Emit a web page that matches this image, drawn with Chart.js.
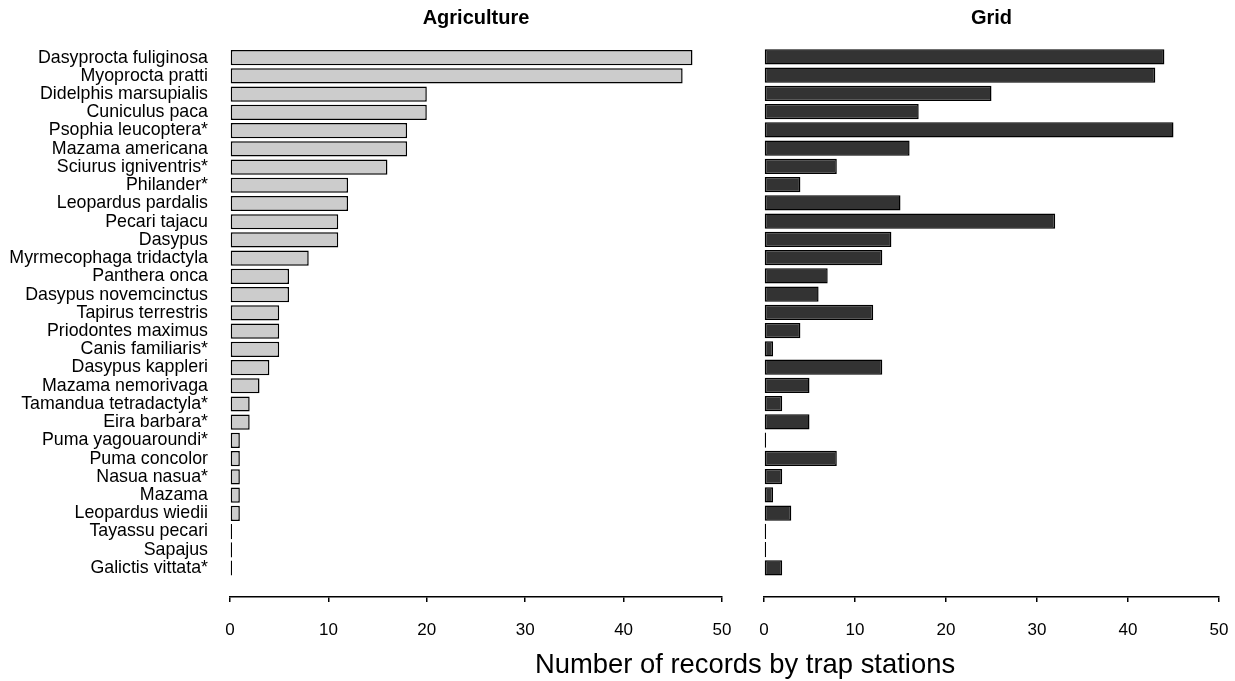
<!DOCTYPE html>
<html>
<head>
<meta charset="utf-8">
<script src="https://cdn.jsdelivr.net/npm/chart.js@4/dist/chart.umd.min.js"></script>
<style>
  html, body { margin: 0; padding: 0; background: #fff; }
  #wrap { position: relative; width: 1235px; height: 681px; overflow: hidden; }
  #c1 { position: absolute; left: 0; top: 0; }
  #c2 { position: absolute; left: 745px; top: 0; }
  #xtitle { position: absolute; left: 445px; width: 600px; top: 648px; text-align: center;
    font-family: "Liberation Sans", Arial, sans-serif; font-size: 27.4px; color: #000; white-space: nowrap; }
</style>
</head>
<body>
<div id="wrap">
  <canvas id="c1" width="745" height="681"></canvas>
  <canvas id="c2" width="490" height="681"></canvas>
  <div id="xtitle">Number of records by trap stations</div>
</div>
<script>
const species = [
  "Dasyprocta fuliginosa", "Myoprocta pratti", "Didelphis marsupialis", "Cuniculus paca",
  "Psophia leucoptera*", "Mazama americana", "Sciurus igniventris*", "Philander*",
  "Leopardus pardalis", "Pecari tajacu", "Dasypus", "Myrmecophaga tridactyla",
  "Panthera onca", "Dasypus novemcinctus", "Tapirus terrestris", "Priodontes maximus",
  "Canis familiaris*", "Dasypus kappleri", "Mazama nemorivaga", "Tamandua tetradactyla*",
  "Eira barbara*", "Puma yagouaroundi*", "Puma concolor", "Nasua nasua*",
  "Mazama", "Leopardus wiedii", "Tayassu pecari", "Sapajus", "Galictis vittata*"
];
const agriculture = [47, 46, 20, 20, 18, 18, 16, 12, 12, 11, 11, 8, 6, 6, 5, 5, 5, 4, 3, 2, 2, 1, 1, 1, 1, 1, 0, 0, 0];
const grid = [44, 43, 25, 17, 45, 16, 8, 4, 15, 32, 14, 13, 7, 6, 12, 4, 1, 13, 5, 2, 5, 0, 8, 2, 1, 3, 0, 0, 2];
const panelTitles = ["Agriculture", "Grid"];
const xMin = 0, xMax = 50, xStep = 10;

Chart.defaults.font.family = '"Liberation Sans", Arial, sans-serif';
Chart.defaults.color = '#000';

function makeChart(canvasId, title, values, fill, showLabels, padding) {
  const yScale = {
    type: 'linear',
    reverse: true,
    offset: false,
    min: -1.47,
    max: 29.59,
    display: showLabels,
    grid: { display: false, drawTicks: false, offset: false },
    border: { display: false },
    ticks: {
      stepSize: 1,
      autoSkip: false,
      maxTicksLimit: 200,
      padding: 22,
      font: { size: 17.8, lineHeight: 1 },
      color: '#000',
      callback: (v) => (Number.isInteger(v) && v >= 0 && v < species.length) ? species[v] : ''
    }
  };
  if (showLabels) yScale.afterFit = (s) => { s.width = 230; };
  return new Chart(document.getElementById(canvasId), {
    type: 'bar',
    data: {
      datasets: [{
        data: values.map((v, i) => ({ x: v, y: i })),
        backgroundColor: (ctx) => (ctx.raw && ctx.raw.x === 0) ? '#000' : fill,
        borderColor: '#000',
        borderWidth: 1.5,
        borderSkipped: false,
        minBarLength: 2,
        categoryPercentage: 1,
        barPercentage: 0.833
      }]
    },
    options: {
      indexAxis: 'y',
      responsive: false,
      animation: false,
      events: [],
      layout: { padding: padding },
      plugins: {
        legend: { display: false },
        tooltip: { enabled: false },
        title: {
          display: true,
          text: title,
          fullSize: false,
          color: '#000',
          font: { size: 20, weight: 'bold', lineHeight: 1.2 },
          padding: { top: 6, bottom: 0 }
        }
      },
      scales: {
        x: {
          type: 'linear',
          min: xMin,
          max: xMax,
          afterFit: (s) => { s.height = 84; },
          grid: { drawOnChartArea: false, drawTicks: true, tickLength: 5, color: '#000', lineWidth: 1.5 },
          border: { display: true, color: '#000', width: 1.5 },
          ticks: { stepSize: xStep, padding: 0, font: { size: 17, lineHeight: 3.294 }, color: '#000', maxRotation: 0 }
        },
        y: yScale
      }
    }
  });
}

makeChart('c1', panelTitles[0], agriculture, '#cccccc', true, { left: 0, right: 23, top: 0, bottom: 0 });
makeChart('c2', panelTitles[1], grid, '#333333', false, { left: 19, right: 16, top: 0, bottom: 0 });
</script>
</body>
</html>
